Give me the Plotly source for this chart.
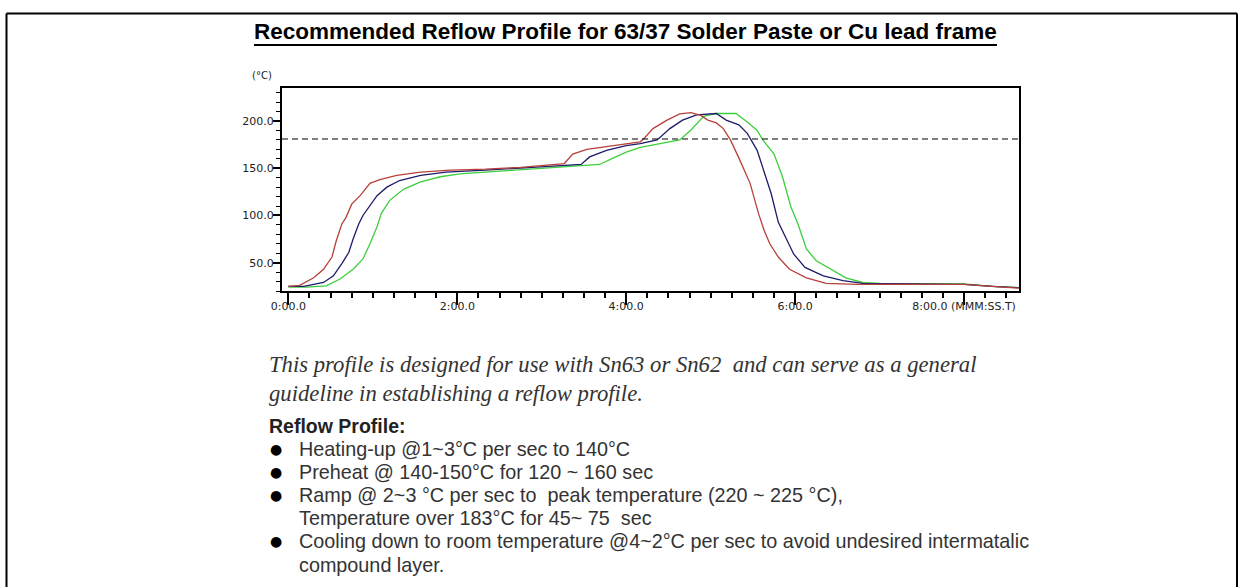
import plotly.graph_objects as go

# ---------------- data (seconds, deg C) ----------------
time_red = [0, 8, 18, 25, 31, 34, 38, 41, 45, 51, 58, 65, 77, 94, 115, 140, 165, 180, 196, 202, 212, 226,
            236, 250, 253, 259, 269, 278, 286, 293, 298, 304, 309, 314, 320, 328, 334, 338, 342, 348, 356,
            368, 382, 404, 440, 480, 500, 519]
temp_red = [25, 26, 34, 43, 56, 73, 91, 98, 112, 121, 134, 138, 142.5, 146, 148, 149, 151, 153, 155, 165, 170, 173,
            175, 178, 182, 192, 201, 207.5, 209, 206, 201, 198, 192, 180, 161, 134, 102, 84, 70, 56, 43,
            34, 28, 27, 27, 27, 25, 23]

time_blue = [0, 11, 25, 32, 38, 43, 46, 50, 53, 58, 63, 70, 79, 94, 112, 140, 165, 185, 208, 214, 226, 240,
             250, 262, 271, 280, 290, 304, 311, 320, 326, 333, 338, 343, 348, 355, 359, 367, 380, 394, 408,
             440, 480, 500, 519]
temp_blue = [25, 25, 29, 36, 49, 61, 75, 91, 100, 111, 121, 130, 137, 142.5, 146, 148, 150, 152, 154, 162, 169, 174,
             176, 180, 192, 201, 206.5, 208, 201, 196, 187, 169, 146, 123, 93, 72, 59, 45, 36, 31, 28,
             27.5, 27, 25, 23.5]

time_green = [0, 13, 27, 37, 46, 53, 58, 63, 66, 72, 82, 94, 108, 122, 150, 180, 200, 221, 231, 240, 250, 266,
              278, 286, 295, 304, 318, 326, 333, 337, 345, 351, 357, 362, 368, 375, 385, 396, 408, 420,
              480, 500, 519]
temp_green = [24, 24, 25.5, 33, 43, 54, 70, 88, 102, 116, 128, 135.5, 141, 144, 147, 150, 152, 154, 161, 167, 172, 176.5,
              180, 190.5, 205, 208, 208, 199, 190, 180, 165, 141, 109, 91, 64.5, 52, 43, 34, 29, 28,
              27.5, 25, 23.5]

x_tickvals = [0, 120, 240, 360, 480]
x_ticktext = ["0:00.0", "2:00.0", "4:00.0", "6:00.0", "8:00.0 (MMM:SS.T)"]
y_tickvals = [50, 100, 150, 200]
y_ticktext = ["50.0", "100.0", "150.0", "200.0"]
ref_temp = 181

title_text = "Recommended Reflow Profile for 63/37 Solder Paste or Cu lead frame"
intro_lines = ["This profile is designed for use with Sn63 or Sn62  and can serve as a general",
               "guideline in establishing a reflow profile."]
heading = "Reflow Profile:"
bullet_lines = ["Heating-up @1~3\u00b0C per sec to 140\u00b0C",
                "Preheat @ 140-150\u00b0C for 120 ~ 160 sec",
                "Ramp @ 2~3 \u00b0C per sec to  peak temperature (220 ~ 225 \u00b0C),",
                "Temperature over 183\u00b0C for 45~ 75  sec",
                "Cooling down to room temperature @4~2\u00b0C per sec to avoid undesired intermatalic",
                "compound layer."]
bullet_marks = [True, True, True, False, True, False]

# ---------------- layout geometry ----------------
W, H = 1244, 587
L, R, T, B = 282, 1019, 88, 291


def px(x):
    return (x - L) / (R - L)


def py(y):
    return (B - y) / (B - T)


fig = go.Figure()
for t, v, c in [(time_green, temp_green, "#3ccf3c"),
                (time_blue, temp_blue, "#1c1c6a"),
                (time_red, temp_red, "#b8403a")]:
    fig.add_trace(go.Scatter(x=t, y=v, mode="lines", line=dict(color=c, width=1.3),
                             hoverinfo="skip"))

fig.add_shape(type="line", xref="x", yref="y", x0=-4.5, x1=519, y0=ref_temp, y1=ref_temp,
              line=dict(color="black", width=1, dash="6px,4px"))

# outer frame
frame = dict(color="black", width=2)
fig.add_shape(type="line", xref="paper", yref="paper", x0=px(6.5), x1=px(6.5), y0=py(13.5), y1=py(600), line=frame)
fig.add_shape(type="line", xref="paper", yref="paper", x0=px(1237), x1=px(1237), y0=py(13.5), y1=py(600), line=frame)
fig.add_shape(type="line", xref="paper", yref="paper", x0=px(6.5), x1=px(1237), y0=py(13.5), y1=py(13.5), line=frame)

# title + underline
fig.add_annotation(xref="paper", yref="paper", x=px(625), y=py(31), text="<b>" + title_text + "</b>",
                   showarrow=False, xanchor="center", yanchor="middle",
                   font=dict(family="Liberation Sans Narrow, Arial Narrow, Liberation Sans", size=22.5, color="black"))
fig.add_shape(type="line", xref="paper", yref="paper", x0=px(254), x1=px(997), y0=py(45), y1=py(45),
              line=dict(color="black", width=2))

# unit label
fig.add_annotation(xref="paper", yref="paper", x=px(262), y=py(75), text="(\u00b0C)", showarrow=False,
                   xanchor="center", yanchor="middle", font=dict(family="DejaVu Sans", size=10, color="#222"))

# intro italic text
for i, line in enumerate(intro_lines):
    fig.add_annotation(xref="paper", yref="paper", x=px(267), y=py(364 + i * 29), text="<i>" + line + "</i>",
                       showarrow=False, xanchor="left", yanchor="middle",
                       font=dict(family="Liberation Serif", size=22.7, color="#333"))

fig.add_annotation(xref="paper", yref="paper", x=px(267), y=py(426), text="<b>" + heading + "</b>",
                   showarrow=False, xanchor="left", yanchor="middle",
                   font=dict(family="Liberation Sans", size=19.5, color="#222"))

for i, (line, mark) in enumerate(zip(bullet_lines, bullet_marks)):
    yy = 449 + i * 23.1
    if mark:
        fig.add_annotation(xref="paper", yref="paper", x=px(276), y=py(yy), text="\u25cf",
                           showarrow=False, xanchor="center", yanchor="middle",
                           font=dict(family="DejaVu Sans", size=14, color="black"))
    fig.add_annotation(xref="paper", yref="paper", x=px(297), y=py(yy), text=line,
                       showarrow=False, xanchor="left", yanchor="middle",
                       font=dict(family="Liberation Sans", size=19.8, color="#333"))

fig.update_layout(
    width=W, height=H,
    margin=dict(l=L, r=W - R, t=T, b=H - B, pad=0),
    paper_bgcolor="white", plot_bgcolor="white",
    showlegend=False,
    xaxis=dict(range=[-4.5, 519], tickmode="array", tickvals=x_tickvals, ticktext=x_ticktext,
               showgrid=False, zeroline=False, showline=True, linecolor="black", linewidth=2, mirror=True,
               ticks="outside", ticklen=12, tickwidth=1.5, tickcolor="black", ticklabelstandoff=-8,
               minor=dict(tick0=0, dtick=15, ticks="outside", ticklen=5, tickwidth=1.5, tickcolor="black",
                          showgrid=False),
               tickfont=dict(family="DejaVu Sans", size=11, color="#222")),
    yaxis=dict(range=[20, 235], tickmode="array", tickvals=y_tickvals, ticktext=y_ticktext,
               showgrid=False, zeroline=False, showline=True, linecolor="black", linewidth=2, mirror=True,
               ticks="outside", ticklen=7, tickwidth=1.5, tickcolor="black", ticklabelstandoff=-3,
               minor=dict(tick0=0, dtick=10, ticks="outside", ticklen=4, tickwidth=1, tickcolor="black",
                          showgrid=False),
               tickfont=dict(family="DejaVu Sans", size=11, color="#222")),
)

fig.write_html("out.html", config={"displayModeBar": False},
               post_script="document.body.style.margin='0';document.body.style.overflow='hidden';")
